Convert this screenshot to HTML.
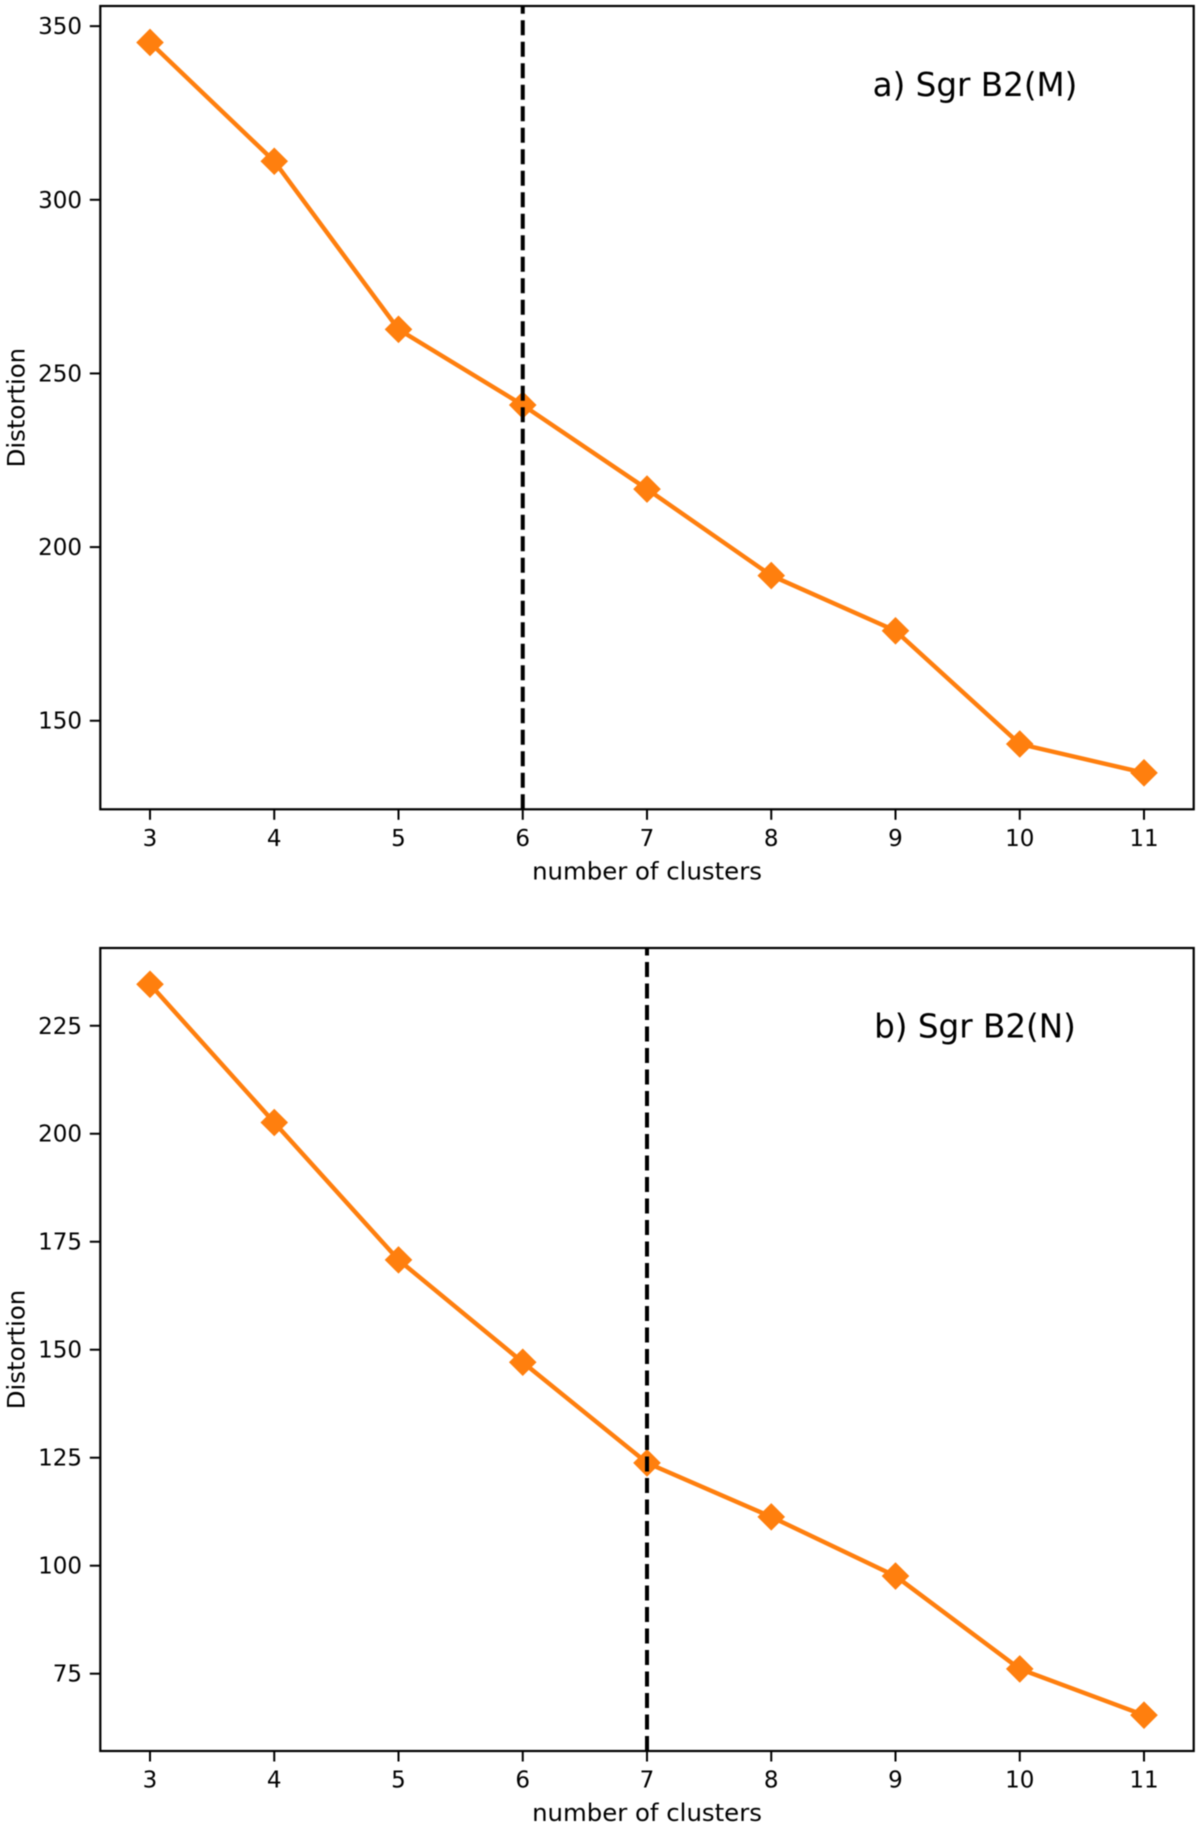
<!DOCTYPE html>
<html lang="en">
<head>
<meta charset="utf-8">
<title>Distortion vs number of clusters</title>
<style>
html,body{margin:0;padding:0;background:#fff;}
svg{display:block;filter:blur(0.4px);}
text{font-family:"DejaVu Sans","Liberation Sans",sans-serif;fill:#000;}
</style>
</head>
<body>
<svg id="chart" xmlns="http://www.w3.org/2000/svg" width="1200" height="1827" viewBox="0 0 1200 1827"></svg>
<script>
const clusterCounts = [3, 4, 5, 6, 7, 8, 9, 10, 11];
const distortionM = [345.3, 311.1, 262.7, 240.9, 216.7, 191.8, 175.9, 143.3, 135];
const distortionN = [234.6, 202.6, 170.8, 147.1, 123.8, 111.3, 97.6, 76.1, 65.4];
const yTicksM = [150, 200, 250, 300, 350];
const yTicksN = [75, 100, 125, 150, 175, 200, 225];
const elbowM = 6;
const elbowN = 7;
const xDomain = [2.6, 11.4];
const yDomainM = [124.5, 355.8];
const yDomainN = [57.1, 243.0];
const titleM = 'a) Sgr B2(M)';
const titleN = 'b) Sgr B2(N)';
const xAxisLabel = 'number of clusters';
const yAxisLabel = 'Distortion';

const SVGNS = 'http://www.w3.org/2000/svg';
const svg = document.getElementById('chart');
const LEFT = 100.3, RIGHT = 1193.7;

function make(parent, tag, attrs, content) {
  const el = document.createElementNS(SVGNS, tag);
  for (const k in attrs) el.setAttribute(k, attrs[k]);
  if (content !== undefined) el.textContent = content;
  parent.appendChild(el);
  return el;
}
function xScale(v) {
  return LEFT + (v - xDomain[0]) / (xDomain[1] - xDomain[0]) * (RIGHT - LEFT);
}
function yScale(v, domain, top, bottom) {
  return bottom - (v - domain[0]) / (domain[1] - domain[0]) * (bottom - top);
}

function drawPanel(key, top, bottom, values, yTicks, yDomain, elbow, title, titleBaseline) {
  const y = function (v) { return yScale(v, yDomain, top, bottom); };
  const g = make(svg, 'g', {});
  
  

  const pts = clusterCounts.map(function (c, i) { return xScale(c).toFixed(2) + ',' + y(values[i]).toFixed(2); }).join(' ');
  const line = make(g, 'polyline', { points: pts, fill: 'none', stroke: '#ff7f0e', 'stroke-width': 4.4, 'stroke-linejoin': 'round' });
  
  

  clusterCounts.forEach(function (c, i) {
    const cx = xScale(c), cy = y(values[i]), r = 13.8;
    const marker = make(g, 'polygon', {
      points: [cx, cy - r, cx + r, cy, cx, cy + r, cx - r, cy].map(function (n) { return n.toFixed(2); }).join(' '),
      fill: '#ff7f0e'
    });
    
    
  });

  const vline = make(g, 'line', {
    x1: xScale(elbow), x2: xScale(elbow), y1: bottom, y2: top,
    stroke: '#000', 'stroke-width': 4, 'stroke-dasharray': '15 6.5'
  });
  
  

  const frame = make(g, 'rect', { x: LEFT, y: top, width: RIGHT - LEFT, height: bottom - top, fill: 'none', stroke: '#000', 'stroke-width': 2.2 });
  
  

  clusterCounts.forEach(function (c) {
    const tx = xScale(c);
    const tick = make(g, 'line', { x1: tx, x2: tx, y1: bottom, y2: bottom + 10.5, stroke: '#000', 'stroke-width': 2 });
    
    
    const lab = make(g, 'text', { x: tx, y: bottom + 36.5, 'text-anchor': 'middle', 'font-size': 23 }, String(c));
    
    
  });

  yTicks.forEach(function (t) {
    const ty = y(t);
    const tick = make(g, 'line', { x1: LEFT - 10.5, x2: LEFT, y1: ty, y2: ty, stroke: '#000', 'stroke-width': 2 });
    
    
    const lab = make(g, 'text', { x: 82, y: ty + 8, 'text-anchor': 'end', 'font-size': 23 }, String(t));
    
    
  });

  const xTitle = make(g, 'text', { x: (LEFT + RIGHT) / 2, y: bottom + 70, 'text-anchor': 'middle', 'font-size': 24.4 }, xAxisLabel);
  
  

  const midY = (top + bottom) / 2;
  const yTitle = make(g, 'text', { x: 0, y: 0, transform: 'translate(24.5 ' + midY + ') rotate(-90)', 'text-anchor': 'middle', 'font-size': 24.4 }, yAxisLabel);
  
  

  const panelTitle = make(g, 'text', { x: 975, y: titleBaseline, 'text-anchor': 'middle', 'font-size': 32.6 }, title);
  
  
}

drawPanel('sgr-b2-m', 6, 809.3, distortionM, yTicksM, yDomainM, elbowM, titleM, 96);
drawPanel('sgr-b2-n', 948, 1751, distortionN, yTicksN, yDomainN, elbowN, titleN, 1037.7);
</script>
</body>
</html>
